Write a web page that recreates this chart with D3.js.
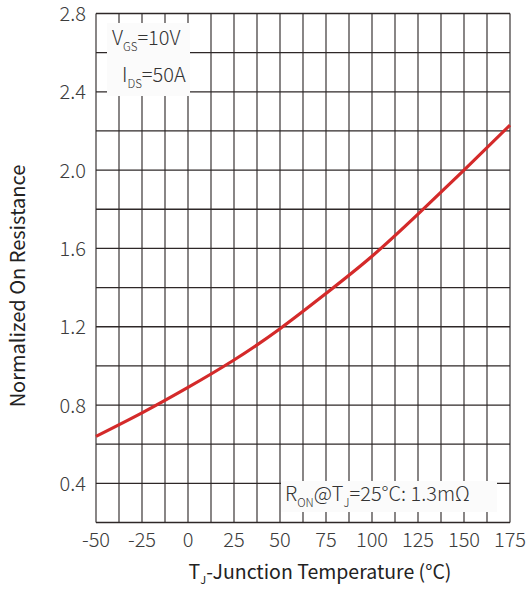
<!DOCTYPE html>
<html><head><meta charset="utf-8">
<script src="https://cdn.jsdelivr.net/npm/d3@7"></script>
<style>
body{margin:0;background:#fff;}
svg text{font-family:"Noto Sans CJK SC","Noto Sans",sans-serif;}
</style></head>
<body><svg id="c" width="528" height="590"></svg>
<script>
const temps = [-50, -25, 0, 25, 50, 75, 100, 125, 150, 175];
const resist = [0.64, 0.76, 0.89, 1.03, 1.19, 1.37, 1.56, 1.775, 2.00, 2.23];
const xTickLabels = [-50, -25, 0, 25, 50, 75, 100, 125, 150, 175];
const yTickLabels = [0.4, 0.8, 1.2, 1.6, 2.0, 2.4, 2.8];
const xGrid = d3.range(-50, 175.1, 12.5);
const yGrid = d3.range(0.2, 2.81, 0.2);

const svg = d3.select("#c");
const L = 96, R = 510, T = 13.5, B = 522.5;
const x = d3.scaleLinear().domain([-50, 175]).range([L, R]);
const y = d3.scaleLinear().domain([0.2, 2.8]).range([B, T]);

const g = svg.append("g");
g.selectAll(".vg").data(xGrid).join("line")
  .attr("x1", d => x(d)).attr("x2", d => x(d)).attr("y1", T).attr("y2", B)
  .attr("stroke", "#3a3434").attr("stroke-width", 1.2);
g.selectAll(".hg").data(yGrid).join("line")
  .attr("x1", L).attr("x2", R).attr("y1", d => y(d)).attr("y2", d => y(d))
  .attr("stroke", "#2e2828").attr("stroke-width", 1.3);

// x tick labels
svg.append("g").selectAll("text").data(xTickLabels).join("text")
  .attr("x", d => x(d)).attr("y", 547).attr("text-anchor", "middle")
  .attr("font-size", 20).attr("font-weight", 300).attr("fill", "#3c3c3c")
  .text(d => d);
// y tick labels
svg.append("g").selectAll("text").data(yTickLabels).join("text")
  .attr("x", 86).attr("y", d => y(d) + 7.5).attr("text-anchor", "end")
  .attr("font-size", 20).attr("font-weight", 300).attr("fill", "#3c3c3c")
  .text(d => d.toFixed(1));

// axis titles
svg.append("text").attr("transform", "translate(25,286) rotate(-90)")
  .attr("text-anchor", "middle").attr("font-size", 20).attr("fill", "#222")
  .text("Normalized On Resistance");
const xt = svg.append("text").attr("x", 320).attr("y", 579).attr("text-anchor", "middle")
  .attr("font-size", 19.5).attr("fill", "#222");
xt.append("tspan").text("T");
xt.append("tspan").attr("font-size", 11).attr("dy", 5).text("J");
xt.append("tspan").attr("dy", -5).text("-Junction Temperature (°C)");

// annotation boxes
svg.append("rect").attr("x", 107).attr("y", 23).attr("width", 83).attr("height", 73).attr("fill", "#fbfbfb");
svg.append("rect").attr("x", 281).attr("y", 481).attr("width", 216).attr("height", 31).attr("fill", "#fbfbfb");

function sub(xp, yp, parts) {
  const t = svg.append("text").attr("x", xp).attr("y", yp).attr("font-size", 20)
    .attr("font-weight", 300).attr("fill", "#333");
  parts.forEach(p => {
    if (p.s) t.append("tspan").attr("font-size", 11.5).attr("dy", 6).text(p.s);
    else t.append("tspan").attr("dy", p.after ? -6 : 0).text(p.t);
  });
}
sub(112, 45, [{t:"V"},{s:"GS"},{t:"=10V", after:true}]);
sub(122, 82, [{t:"I"},{s:"DS"},{t:"=50A", after:true}]);
sub(285, 501, [{t:"R"},{s:"ON"},{t:"@T", after:true},{s:"J"},{t:"=25°C: 1.3mΩ", after:true}]);

// curve
const pts = temps.map((t, i) => [t, resist[i]]);
svg.append("path").datum(pts)
  .attr("d", d3.line().x(d => x(d[0])).y(d => y(d[1])).curve(d3.curveNatural))
  .attr("fill", "none").attr("stroke", "#d42a2a").attr("stroke-width", 3.2);
</script></body></html>
